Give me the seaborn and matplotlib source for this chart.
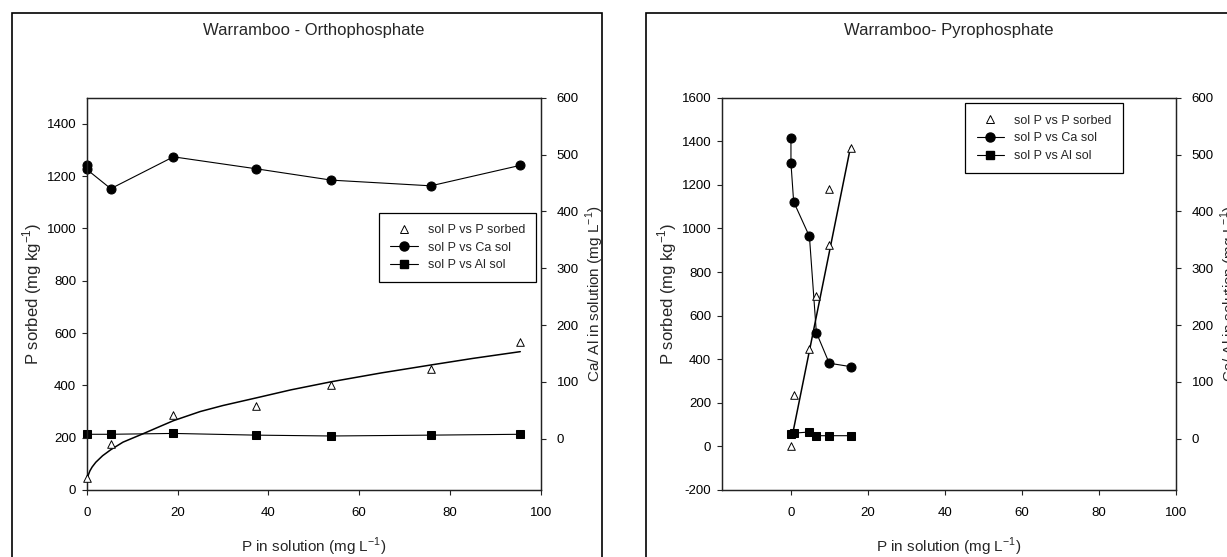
import matplotlib
matplotlib.use('Agg')
import matplotlib.pyplot as plt
from matplotlib.lines import Line2D
from matplotlib.patches import Rectangle
import seaborn as sns

# プロットの設定
sns.set_theme(style='ticks')
plt.rcParams['font.family'] = ['Liberation Sans', 'DejaVu Sans']
plt.rcParams['mathtext.fontset'] = 'custom'
plt.rcParams['mathtext.rm'] = 'Liberation Sans'
plt.rcParams['axes.unicode_minus'] = False

# %%
# Orthophosphate data
ortho_p_sol = [0, 5.3, 19.1, 37.3, 53.9, 75.8, 95.5]
ortho_p_sorbed = [47, 176, 285, 322, 400, 461, 567]
ortho_ca_x = [0, 0, 5.3, 19.1, 37.3, 53.9, 75.8, 95.5]
ortho_ca = [481, 474, 440, 496, 475, 455, 445, 481]
ortho_al_x = [0, 5.3, 19.1, 37.3, 53.9, 75.8, 95.5]
ortho_al = [8, 8, 9.5, 6.5, 5, 6.5, 8]
# fitted curve
ortho_fit_x = [0, 0.3, 0.7, 1.2, 2, 3.5, 5.3, 8, 12.4, 16, 19.1, 25, 30, 37.3, 45, 53.9, 65, 75.8, 85, 95.5]
ortho_fit_y = [30, 55, 73, 88, 106, 131, 154, 183, 215, 242, 265, 300, 323, 352, 383, 414, 448, 478, 503, 529]

# Pyrophosphate data
pyro_p_sol = [0, 0.7, 4.8, 6.6, 9.95, 9.95, 15.5]
pyro_p_sorbed = [0, 238, 448, 688, 922, 1183, 1368]
pyro_ca_x = [0, 0, 0.7, 4.8, 6.6, 9.95, 15.5]
pyro_ca = [529, 485, 417, 356, 187, 133, 127]
pyro_al_x = [0, 0.7, 4.8, 6.6, 9.95, 15.5]
pyro_al = [9, 10, 12, 5.5, 5.5, 5.5]
pyro_fit_x = [0.3, 15.5]
pyro_fit_y = [45, 1375]

titles = ['Warramboo - Orthophosphate', 'Warramboo- Pyrophosphate']
legend_labels = ['sol P vs P sorbed', 'sol P vs Ca sol', 'sol P vs Al sol']

W, H = 1227, 557
fig = plt.figure(figsize=(W / 100, H / 100), dpi=100)

ax_w, ax_h = 454 / W, 392.3 / H
ax_b = 1 - 490 / H
ax_l = fig.add_axes([86.7 / W, ax_b, ax_w, ax_h])
ax_r = fig.add_axes([721.7 / W, ax_b, ax_w, ax_h])

# outer frames
fig.patches.append(Rectangle((12 / W, -0.1), 590 / W, 1.1 - 12.5 / H, transform=fig.transFigure,
                             fill=False, edgecolor='black', lw=1.2))
fig.patches.append(Rectangle((646 / W, -0.1), 0.6, 1.1 - 12.5 / H, transform=fig.transFigure,
                             fill=False, edgecolor='black', lw=1.2))


def draw_panel(ax, title, p_sol, sorbed, fit_x, fit_y, ca_x, ca, al_x, al,
               xlim, ylim, yticks, leg_anchor):
    ax2 = ax.twinx()
    ax.set_zorder(2)
    ax.patch.set_visible(False)

    sns.lineplot(x=fit_x, y=fit_y, ax=ax, color='black', lw=1.1,
                 sort=False, estimator=None)
    sns.scatterplot(x=p_sol, y=sorbed, ax=ax, marker='^', s=30, color='white',
                    edgecolor='black', linewidth=0.7, zorder=4, clip_on=False)

    sns.lineplot(x=ca_x, y=ca, ax=ax2, color='black', lw=0.8, marker='o', markersize=6.5,
                 markeredgecolor='black', sort=False, estimator=None, clip_on=False)
    sns.lineplot(x=al_x, y=al, ax=ax2, color='black', lw=0.8, marker='s', markersize=5.6,
                 markeredgecolor='black', sort=False, estimator=None, clip_on=False)

    ax.set_xlim(*xlim)
    ax.set_ylim(*ylim)
    ax.set_yticks(yticks)
    ax.set_xticks(range(0, 101, 20))
    ax2.set_ylim(-90, 600)
    ax2.set_yticks(range(0, 601, 100))

    for a in (ax, ax2):
        for sp in a.spines.values():
            sp.set_visible(True)
            sp.set_color('#222222')
            sp.set_linewidth(0.9)
    ax.tick_params(axis='y', direction='out', length=3.6, width=0.8, pad=4, labelsize=9.5,
                   colors='#222222', labelcolor='black')
    ax.tick_params(axis='x', direction='out', length=3.6, width=0.8, pad=8.5, labelsize=9.5,
                   colors='#222222', labelcolor='black')
    ax2.tick_params(axis='y', direction='out', length=3.6, width=0.8, pad=8, labelsize=9.5,
                    colors='#222222', labelcolor='black')

    ax.set_xlabel('P in solution (mg L$^{-1}$)', fontsize=11, va='center')
    ax.xaxis.set_label_coords(0.5, (490 - 547) / 392.3)
    ax.set_ylabel('P sorbed (mg kg$^{-1}$)', fontsize=12, va='center')
    ax.yaxis.set_label_coords(-0.119, 0.5)
    # on the right panel this sits at the picture edge, as in the original
    ax2.set_ylabel('Ca/ Al in solution (mg L$^{-1}$)', fontsize=11, va='center')
    ax2.yaxis.set_label_coords(1.1196, 0.5)

    pos = ax.get_position()
    fig.text(pos.x0 + pos.width / 2, 1 - 30 / H, title, ha='center', va='center', fontsize=12)

    handles = [
        Line2D([], [], ls='none', marker='^', markersize=5.5, markerfacecolor='white',
               markeredgecolor='black', markeredgewidth=0.7),
        Line2D([], [], color='black', lw=0.8, marker='o', markersize=6.5),
        Line2D([], [], color='black', lw=0.8, marker='s', markersize=5.6),
    ]
    leg = ax.legend(handles, legend_labels, loc='upper left', bbox_to_anchor=leg_anchor,
                    borderaxespad=0, fontsize=9, frameon=True, fancybox=False,
                    edgecolor='black', framealpha=1, handlelength=2.2, handletextpad=0.8,
                    borderpad=0.9, labelspacing=0.45)
    leg.get_frame().set_linewidth(0.9)
    return ax2


draw_panel(ax_l, titles[0], ortho_p_sol, ortho_p_sorbed, ortho_fit_x, ortho_fit_y,
           ortho_ca_x, ortho_ca, ortho_al_x, ortho_al,
           (0, 100), (0, 1500), range(0, 1401, 200), (0.644, 0.707))
draw_panel(ax_r, titles[1], pyro_p_sol, pyro_p_sorbed, pyro_fit_x, pyro_fit_y,
           pyro_ca_x, pyro_ca, pyro_al_x, pyro_al,
           (-18, 100), (-200, 1600), range(-200, 1601, 200), (0.537, 0.9855))

fig.savefig('out.png', dpi=100)
